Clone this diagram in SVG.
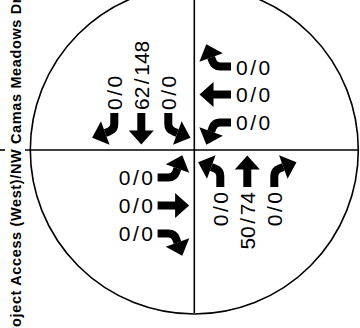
<svg xmlns="http://www.w3.org/2000/svg" xmlns:xlink="http://www.w3.org/1999/xlink" width="360" height="328" viewBox="0 0 360 328">
<style>
.ln{stroke:#000;stroke-width:1.6;fill:none}
.n{font-family:"Liberation Sans",Arial,sans-serif;font-size:21px;fill:#000}
.st{font-family:"Liberation Sans",Arial,sans-serif;font-weight:bold;font-size:14.5px;fill:#000}
.stem{stroke:#000;stroke-width:8;fill:none}
</style>
<defs>
<g id="thr"><path class="stem" d="M0,0 V19"/><polygon points="-12.5,17.5 12.5,17.5 0,31.5"/></g>
<g id="trn"><path class="stem" d="M0,0 V11 A8,8 0 0 1 -5.26,18.52 L-9.02,19.89"/><polygon points="-13.3,8.14 -4.75,31.64 -22.18,24.68"/></g>
</defs>
<rect width="360" height="328" fill="#fff"/>
<g id="connectors">
<circle class="ln" cx="194.3" cy="150" r="164"/>
<line class="ln" x1="194.3" y1="0" x2="194.3" y2="313"/>
<line class="ln" x1="0" y1="150" x2="5" y2="150"/>
<line class="ln" x1="25" y1="150" x2="358" y2="150"/>
</g>
<g id="street">
<text class="st" transform="translate(20.5,170.5) rotate(-90)" text-anchor="middle" textLength="346" lengthAdjust="spacing">Project Access (West)/NW Camas Meadows Dr</text>
</g>
<g id="southbound">
<use xlink:href="#trn" transform="translate(114.3,113)"/>
<use xlink:href="#thr" transform="translate(141.3,113)"/>
<use xlink:href="#trn" transform="translate(168.3,113) scale(-1,1)"/>
<text class="n" transform="translate(122,110) rotate(-90)">0<tspan dx="2.5">/</tspan><tspan dx="2.5">0</tspan></text>
<text class="n" transform="translate(149,110) rotate(-90)">62<tspan dx="2.5">/</tspan><tspan dx="2.5">148</tspan></text>
<text class="n" transform="translate(176,110) rotate(-90)">0<tspan dx="2.5">/</tspan><tspan dx="2.5">0</tspan></text>
</g>
<g id="westbound">
<use xlink:href="#trn" transform="translate(231,66.5) rotate(90)"/>
<use xlink:href="#thr" transform="translate(231,94.5) rotate(90)"/>
<use xlink:href="#trn" transform="translate(231,122.5) rotate(90) scale(-1,1)"/>
<text class="n" x="236" y="74.5">0<tspan dx="2.5">/</tspan><tspan dx="2.5">0</tspan></text>
<text class="n" x="236" y="102">0<tspan dx="2.5">/</tspan><tspan dx="2.5">0</tspan></text>
<text class="n" x="236" y="130">0<tspan dx="2.5">/</tspan><tspan dx="2.5">0</tspan></text>
</g>
<g id="northbound">
<use xlink:href="#trn" transform="translate(220.3,187) rotate(180) scale(-1,1)"/>
<use xlink:href="#thr" transform="translate(247.3,187) rotate(180)"/>
<use xlink:href="#trn" transform="translate(274.3,187) rotate(180)"/>
<text class="n" text-anchor="end" transform="translate(228,192) rotate(-90)">0<tspan dx="2.5">/</tspan><tspan dx="2.5">0</tspan></text>
<text class="n" text-anchor="end" transform="translate(255,192) rotate(-90)">50<tspan dx="2.5">/</tspan><tspan dx="2.5">74</tspan></text>
<text class="n" text-anchor="end" transform="translate(282,192) rotate(-90)">0<tspan dx="2.5">/</tspan><tspan dx="2.5">0</tspan></text>
</g>
<g id="eastbound">
<use xlink:href="#trn" transform="translate(157.6,177.5) rotate(-90) scale(-1,1)"/>
<use xlink:href="#thr" transform="translate(157.6,205.5) rotate(-90)"/>
<use xlink:href="#trn" transform="translate(157.6,233.5) rotate(-90)"/>
<text class="n" text-anchor="end" x="153" y="185">0<tspan dx="2.5">/</tspan><tspan dx="2.5">0</tspan></text>
<text class="n" text-anchor="end" x="153" y="213">0<tspan dx="2.5">/</tspan><tspan dx="2.5">0</tspan></text>
<text class="n" text-anchor="end" x="153" y="241">0<tspan dx="2.5">/</tspan><tspan dx="2.5">0</tspan></text>
</g>
</svg>
